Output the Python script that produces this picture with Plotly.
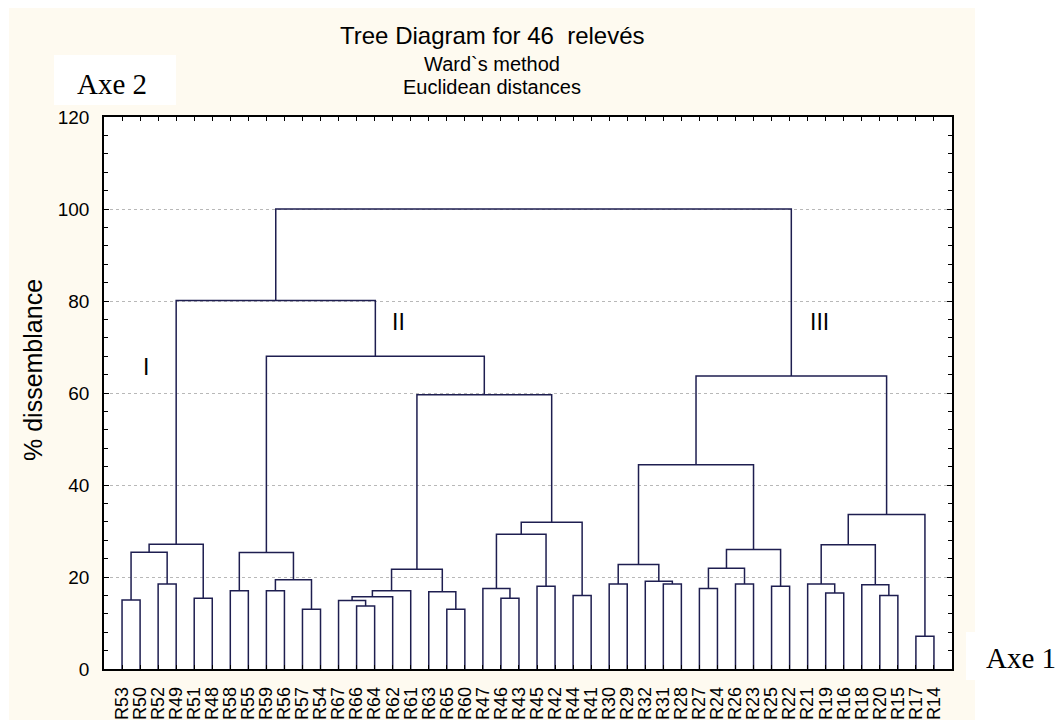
import plotly.graph_objects as go

# Leaf order along the horizontal axis
leaf_labels = ["R53", "R50", "R52", "R49", "R51", "R48", "R58", "R55", "R59", "R56",
               "R57", "R54", "R67", "R66", "R64", "R62", "R61", "R63", "R65", "R60",
               "R47", "R46", "R43", "R45", "R42", "R44", "R41", "R30", "R29", "R32",
               "R31", "R28", "R27", "R24", "R26", "R23", "R25", "R22", "R21", "R19",
               "R16", "R18", "R20", "R15", "R17", "R14"]

# Agglomeration steps (Ward): step n is named "c<n>" and joins join_a[n-1] with join_b[n-1]
join_a = ["R53", "R52", "c1", "R51", "c3", "R58", "R59", "R57", "c7", "c6",
          "R66", "R67", "c12", "c13", "R65", "R63", "c14", "R46", "R47", "R45",
          "c19", "R44", "c21", "c17", "c10", "c5", "R30", "R31", "R32", "c27",
          "R27", "R26", "c31", "R25", "c33", "c30", "R19", "R21", "R20", "R18",
          "c38", "R17", "c41", "c36", "c26"]
join_b = ["R50", "R49", "c2", "R48", "c4", "R55", "R56", "R54", "c8", "c9",
          "R64", "c11", "R62", "R61", "R60", "c15", "c16", "R43", "c18", "R42",
          "c20", "R41", "c22", "c23", "c24", "c25", "R29", "R28", "c28", "c29",
          "R24", "R23", "c32", "R22", "c34", "c35", "R16", "c37", "R15", "c39",
          "c40", "R14", "c42", "c43", "c44"]
join_height = [15.0, 18.5, 25.4, 15.4, 27.1, 17.0, 17.0, 13.0, 19.4, 25.3,
               13.7, 14.9, 15.7, 17.0, 13.0, 16.8, 21.7, 15.4, 17.5, 18.0,
               29.3, 16.0, 31.9, 59.6, 68.0, 80.1, 18.5, 18.5, 19.1, 22.7,
               17.5, 18.5, 21.9, 18.0, 26.0, 44.4, 16.5, 18.5, 16.0, 18.3,
               27.0, 7.1, 33.6, 63.7, 100.0]

# Cluster group labels
group_names = ["I", "II", "III"]
group_x = [2.3, 16.3, 39.65]
group_y = [65.7, 75.4, 75.4]

# Node positions: leaves on integer slots, clusters centred over their two members
node_pos = {name: (i + 1, 0.0) for i, name in enumerate(leaf_labels)}
xs, ys = [], []
for n, (a, b, h) in enumerate(zip(join_a, join_b, join_height), start=1):
    xa, ya = node_pos[a]
    xb, yb = node_pos[b]
    xs += [xa, xa, xb, xb, None]
    ys += [ya, h, h, yb, None]
    node_pos[f"c{n}"] = ((xa + xb) / 2, h)

W, H = 1061, 722
ML, MR, MT, MB = 104, 109, 117, 53
PW, PH = W - ML - MR, H - MT - MB


def px(x):
    return (x - ML) / PW


def py(y):
    return (H - MB - y) / PH


LINE = "#1e1e50"
SANS = "Liberation Sans, Arial, sans-serif"
SERIF = "Liberation Serif, Times New Roman, serif"

fig = go.Figure()
fig.add_trace(go.Scatter(x=xs, y=ys, mode="lines",
                         line=dict(color=LINE, width=1.5),
                         hoverinfo="skip", showlegend=False))

for name, gx, gy in zip(group_names, group_x, group_y):
    fig.add_annotation(x=gx, y=gy, xref="x", yref="y", text=name, showarrow=False,
                       font=dict(family=SANS, size=23, color="black"),
                       xanchor="center", yanchor="middle")

shapes = [
    # cream panel behind the whole chart
    dict(type="rect", xref="paper", yref="paper", x0=px(9), x1=px(975),
         y0=py(720), y1=py(8), fillcolor="#FEFAF0", line=dict(width=0), layer="below"),
    # white plotting area
    dict(type="rect", xref="paper", yref="paper", x0=0, x1=1, y0=0, y1=1,
         fillcolor="white", line=dict(width=0), layer="below"),
    # white boxes behind the axis names
    dict(type="rect", xref="paper", yref="paper", x0=px(54), x1=px(176),
         y0=py(105), y1=py(55), fillcolor="white", line=dict(width=0), layer="below"),
    dict(type="rect", xref="paper", yref="paper", x0=px(966), x1=px(1061),
         y0=py(680), y1=py(632), fillcolor="white", line=dict(width=0), layer="below"),
]

texts = [
    ("Tree Diagram for 46  relevés", 492, 35, SANS, 24),
    ("Ward`s method", 492, 64, SANS, 20),
    ("Euclidean distances", 492, 87, SANS, 20),
    ("Axe 2", 112, 84, SERIF, 29),
    ("Axe 1", 1021, 658, SERIF, 29),
]
for t, x, y, fam, sz in texts:
    fig.add_annotation(x=px(x), y=py(y), xref="paper", yref="paper", text=t,
                       showarrow=False, font=dict(family=fam, size=sz, color="black"),
                       xanchor="center", yanchor="middle")

fig.add_annotation(x=px(33), y=py(370), xref="paper", yref="paper",
                   text="% dissemblance", textangle=-90, showarrow=False,
                   font=dict(family=SANS, size=25, color="black"),
                   xanchor="center", yanchor="middle")

fig.update_layout(
    width=W, height=H,
    margin=dict(l=ML, r=MR, t=MT, b=MB, pad=0),
    paper_bgcolor="white", plot_bgcolor="white",
    shapes=shapes,
    xaxis=dict(range=[0, 47], tickmode="array", automargin=False,
               tickvals=list(range(1, len(leaf_labels) + 1)), ticktext=leaf_labels,
               tickangle=-90, ticks="inside", ticklen=4, tickcolor="black",
               showline=True, linecolor="black", linewidth=1.5, mirror="ticks",
               showgrid=False, zeroline=False, ticklabelstandoff=9,
               tickfont=dict(family=SANS, size=18, color="black")),
    yaxis=dict(range=[0, 120], tickmode="linear", tick0=0, dtick=20, automargin=False,
               ticks="inside", ticklen=5, tickcolor="black",
               minor=dict(dtick=4, ticks="inside", ticklen=4, tickcolor="black",
                          showgrid=False),
               showline=True, linecolor="black", linewidth=1.5, mirror="ticks",
               showgrid=True, gridcolor="#b8b8b8", griddash="dot", gridwidth=1,
               zeroline=False, ticklabelstandoff=9,
               tickfont=dict(family=SANS, size=19, color="black")),
)

fig.write_html("out.html")
